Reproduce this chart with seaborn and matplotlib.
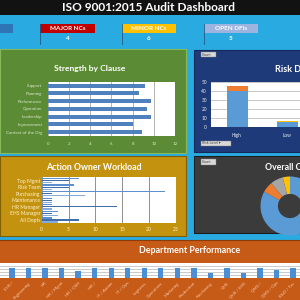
import matplotlib
matplotlib.use("Agg")
import matplotlib.pyplot as plt
import seaborn as sns
import pandas as pd
from matplotlib.patches import Rectangle

# ---------------- data ----------------
kpi_labels = ["SCORE", "MAJOR NCs", "MINOR NCs", "OPEN DFIs"]
kpi_values = ["", "4", "6", "5"]

clauses = ["Support", "Planning", "Performance", "Operation", "Leadership",
           "Improvement", "Context of the Org"]
clause_scores = [9.2, 8.6, 9.7, 9.4, 9.7, 8.0, 8.9]

risk_levels = ["High", "Low"]
risk_blue = [40, 6]
risk_orange = [6, 0]
risk_yellow = [0, 1]

owners = ["Top Mgmt", "Risk Team", "Purchasing", "Maintenance", "HR Manager",
          "EHS Manager", "All Depts"]
owner_open = [7, 6, 23, 2, 2, 3, 2]
owner_closed = [5, 5, 2, 2, 14, 2, 7]
owner_overdue = [2, 2, 8, 2, 2, 3, 3]

compliance_labels = ["OFI", "Observation", "Minor NC", "Compliant"]
compliance_values = [4, 7, 6, 83]

depts = ["EHS /", "Engineering", "HR", "HR / Mgmt", "HR / OSH", "HR /",
         "IT / Admin", "IT / Ops", "Logistics", "Operations", "Marketing",
         "Production", "Purchasing", "QHS", "QHS / EHS", "QMS /", "QMS / Ops",
         "R&D / Tec"]
dept_scores = [100, 100, 100, 100, 70, 100, 100, 100, 100, 100, 100, 100,
               50, 100, 50, 100, 82, 100]

# ---------------- style ----------------
plt.rcParams["font.family"] = ["Lato", "DejaVu Sans"]
W, H = 300, 300
fig = plt.figure(figsize=(3, 3), dpi=100)
fig.patch.set_facecolor("#29abe2")


def px(x, y, w, h):
    return [x / W, 1 - (y + h) / H, w / W, h / H]


bg = fig.add_axes([0, 0, 1, 1], zorder=-10)
bg.set_xlim(0, W)
bg.set_ylim(H, 0)
bg.axis("off")


def rect(x, y, w, h, fc, ec="none", lw=0):
    bg.add_patch(Rectangle((x, y), w, h, facecolor=fc, edgecolor=ec, linewidth=lw))


# title bar
rect(0, 0, 300, 15, "#121212")
bg.text(148, 7.8, "ISO 9001:2015 Audit Dashboard", color="white", fontsize=8.6,
        fontweight="bold", ha="center", va="center")

# KPI row
kpi_x = [-40, 40, 122, 204]
kpi_w = [53, 55, 54, 54]
kpi_col = ["#2e75b6", "#c00000", "#ffc000", "#9db3e0"]
for lab, val, x, w, c in zip(kpi_labels, kpi_values, kpi_x, kpi_w, kpi_col):
    rect(x, 24, w, 8.5, c)
    bg.plot([x, x], [24, 44], color="#1b5e86", lw=0.6)
    bg.text(x + w / 2, 28.3, lab, color="white", fontsize=4.6, fontweight="bold",
            ha="center", va="center")
    bg.text(x + w / 2, 38.5, val, color="white", fontsize=4.6, fontweight="bold",
            ha="center", va="center")

# panels
rect(0, 49, 186, 104, "#5b8b34", ec="#86b95a", lw=0.8)
rect(194, 50, 110, 102, "#1f3a78", ec="#14285a", lw=0.8)
rect(0, 156, 186, 80, "#c39310", ec="#7f6000", lw=0.8)
rect(194, 156, 110, 77, "#3b3b3b", ec="#1e1e1e", lw=0.8)
rect(-2, 239.5, 304, 62, "#c65a17", ec="#8c3b0b", lw=0.8)

# panel titles
bg.text(90, 69, "Strength by Clause", color="white", fontsize=6.1,
        fontweight="bold", ha="center", va="center")
bg.text(94, 167, "Action Owner Workload", color="white", fontsize=6.3,
        fontweight="bold", ha="center", va="center")
bg.text(190, 250.7, "Department Performance", color="white", fontsize=6.4,
        fontweight="bold", ha="center", va="center")
bg.text(275, 69, "Risk Distribution", color="white", fontsize=6.5,
        fontweight="bold", ha="left", va="center")
bg.text(265, 167, "Overall Compliance", color="white", fontsize=6.3,
        fontweight="bold", ha="left", va="center")

# buttons
for (x, y, w, h, t) in [(200.7, 51.7, 15.3, 5.6, "Count"),
                        (200.7, 159.3, 15.0, 5.7, "Count"),
                        (200.7, 140.7, 30.0, 5.6, "Risk Level \u25BE")]:
    rect(x, y, w, h, "#d9d9d9", ec="#7f7f7f", lw=0.3)
    bg.text(x + 1.5, y + h / 2, t, color="#404040", fontsize=2.6,
            ha="left", va="center")

# ---------------- Strength by Clause ----------------
ax1 = fig.add_axes(px(47.7, 81.7, 127.3, 54.3))
df_cl = pd.DataFrame({"clause": clauses, "score": clause_scores})
sns.barplot(data=df_cl, x="score", y="clause", color="#4f81bd", width=0.5,
            saturation=1, ax=ax1)
ax1.set_xlim(0, 12)
ax1.set_xticks(range(0, 13, 2))
ax1.set_facecolor("white")
ax1.grid(axis="x", color="#a6a6a6", lw=0.6)
ax1.set_axisbelow(True)
for s in ax1.spines.values():
    s.set_visible(False)
ax1.set_xlabel("")
ax1.set_ylabel("")
ax1.tick_params(axis="both", labelsize=3.2, colors="#dbe7cc", length=0)
ax1.tick_params(axis="x", pad=4.5)
ax1.tick_params(axis="y", pad=4)

# ---------------- Risk Distribution ----------------
ax3 = fig.add_axes(px(211, 82, 150, 45))
df_r = pd.DataFrame({"level": risk_levels, "blue": risk_blue,
                     "orange": risk_orange, "yellow": risk_yellow})
df_r["t2"] = df_r["blue"] + df_r["orange"]
df_r["t3"] = df_r["t2"] + df_r["yellow"]
for col, c in [("t3", "#ffc000"), ("t2", "#ed7d31"), ("blue", "#5b9bd5")]:
    sns.barplot(data=df_r, x="level", y=col, color=c, width=0.42,
                saturation=1, ax=ax3)
ax3.set_xlim(-0.52, 2.48)
ax3.set_ylim(0, 50)
ax3.set_yticks(range(0, 51, 10))
ax3.set_facecolor("white")
ax3.grid(axis="y", color="#bfbfbf", lw=0.6)
ax3.set_axisbelow(True)
for s in ax3.spines.values():
    s.set_visible(False)
ax3.set_xlabel("")
ax3.set_ylabel("")
ax3.tick_params(axis="both", labelsize=3.4, colors="#e6ecf7", length=0)
ax3.tick_params(axis="x", pad=4)
ax3.tick_params(axis="y", pad=3)

# ---------------- Action Owner Workload ----------------
ax2 = fig.add_axes(px(41.7, 177.3, 134, 46))
df_ow = pd.DataFrame({
    "owner": owners * 3,
    "status": ["Open"] * 7 + ["Closed"] * 7 + ["Overdue"] * 7,
    "count": owner_open + owner_closed + owner_overdue,
})
sns.barplot(data=df_ow, x="count", y="owner", hue="status",
            palette=["#5b8fd0", "#3f6eab", "#86abdc"], width=0.95,
            saturation=1, legend=False, ax=ax2)
for p in ax2.patches:
    h = p.get_height()
    p.set_y(p.get_y() + h * 0.2)
    p.set_height(h * 0.6)
ax2.set_xlim(0, 25)
ax2.set_xticks(range(0, 26, 5))
ax2.set_facecolor("white")
ax2.grid(axis="x", color="#7f7f7f", lw=0.6)
ax2.set_axisbelow(True)
for s in ax2.spines.values():
    s.set_visible(False)
ax2.set_xlabel("")
ax2.set_ylabel("")
ax2.tick_params(axis="both", labelsize=3.6, colors="#fff2cc", length=0)
ax2.tick_params(axis="x", pad=3)
ax2.tick_params(axis="y", pad=1)

# ---------------- Overall Compliance (donut) ----------------
ax4 = fig.add_axes(px(250, 170, 80, 62))
ax4.pie(compliance_values,
        colors=["#ffc000", "#a5a5a5", "#ed7d31", "#5b9bd5"],
        startangle=90, counterclock=True,
        wedgeprops=dict(width=0.59, edgecolor="none"))
R = 29.5
ax4.set_aspect("auto")
ax4.set_xlim(-40 / R, 40 / R)
ax4.set_ylim(-26 / R, 36 / R)
ax4.axis("off")

# ---------------- Department Performance ----------------
ax5 = fig.add_axes(px(0, 263.3, 300, 15))
df_d = pd.DataFrame({"dept": depts, "score": dept_scores})
sns.barplot(data=df_d, x="dept", y="score", color="#4a8fd6", width=0.32,
            saturation=1, ax=ax5)
ax5.set_xlim(-0.726, 17.42)
ax5.set_ylim(0, 150)
ax5.set_yticks([30, 60, 90, 120])
ax5.set_yticklabels([])
ax5.set_facecolor("white")
ax5.grid(axis="y", color="#c0c0c0", lw=0.6)
ax5.set_axisbelow(True)
for s in ax5.spines.values():
    s.set_visible(False)
ax5.set_xlabel("")
ax5.set_ylabel("")
ax5.tick_params(axis="both", labelsize=3.2, colors="#f8cbad", length=0)
ax5.tick_params(axis="x", pad=2)
for t in ax5.get_xticklabels():
    t.set_rotation(45)
    t.set_ha("right")
    t.set_rotation_mode("anchor")

fig.savefig("out.png", dpi=100, facecolor=fig.get_facecolor())
